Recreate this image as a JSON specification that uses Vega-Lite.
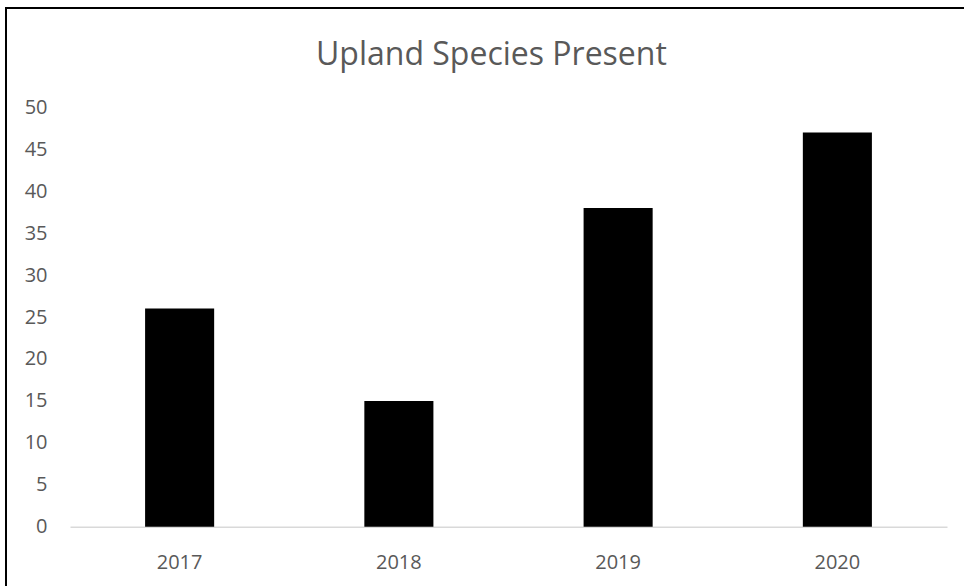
{
  "$schema": "https://vega.github.io/schema/vega-lite/v6.json",
  "autosize": "none",
  "width": 1100,
  "height": 700,
  "padding": {"left": 6, "top": 8, "right": -142, "bottom": -122},
  "background": "white",
  "title": {
    "text": "Upland Species Present",
    "anchor": "start",
    "frame": "group",
    "baseline": "alphabetic",
    "offset": -89,
    "dx": 310,
    "font": "Open Sans",
    "fontSize": 32,
    "fontWeight": "normal",
    "color": "#595959"
  },
  "data": {
    "values": [
      {"year": "2017", "species": 26},
      {"year": "2018", "species": 15},
      {"year": "2019", "species": 38},
      {"year": "2020", "species": 47}
    ]
  },
  "mark": {"type": "bar", "color": "#000000"},
  "encoding": {
    "x": {
      "field": "year",
      "type": "nominal",
      "sort": null,
      "scale": {"range": [64, 941], "paddingInner": 0.685, "paddingOuter": 0.3425},
      "axis": {
        "title": null,
        "labelAngle": 0,
        "offset": -181.3,
        "ticks": false,
        "domain": true,
        "domainColor": "#D9D9D9",
        "domainWidth": 1.5,
        "labelPadding": 26,
        "labelFont": "Open Sans",
        "labelFontSize": 20,
        "labelColor": "#595959"
      }
    },
    "y": {
      "field": "species",
      "type": "quantitative",
      "scale": {"domain": [0, 50], "range": [518.7, 99.3], "nice": false},
      "axis": {
        "title": null,
        "values": [0, 5, 10, 15, 20, 25, 30, 35, 40, 45, 50],
        "offset": -41,
        "ticks": false,
        "domain": false,
        "grid": false,
        "labelPadding": 0,
        "labelFont": "Open Sans",
        "labelFontSize": 20,
        "labelColor": "#595959"
      }
    }
  },
  "config": {
    "view": {"stroke": "#000000", "strokeWidth": 2}
  }
}
